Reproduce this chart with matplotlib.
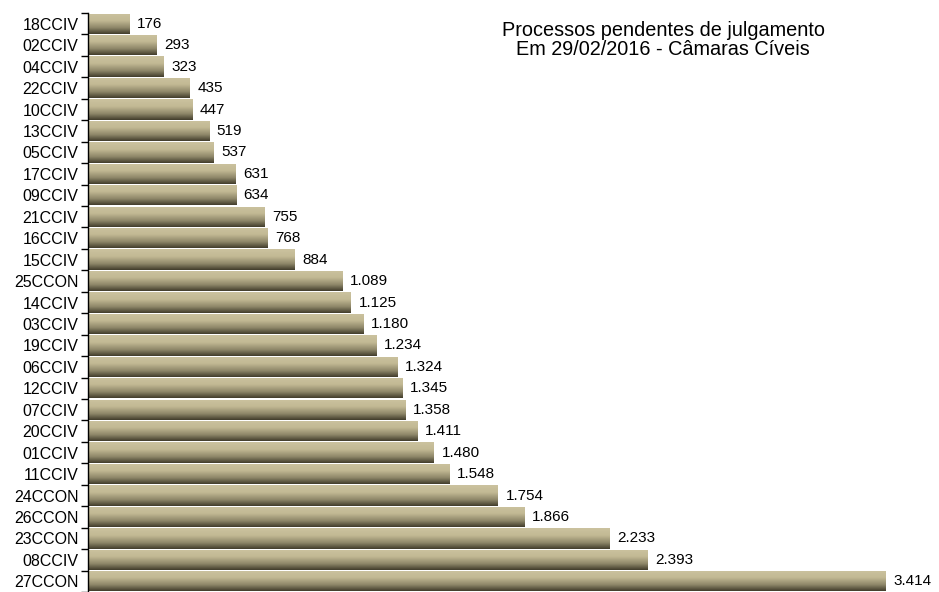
import numpy as np
import matplotlib
matplotlib.use("Agg")
from matplotlib import pyplot as plt
from matplotlib.colors import LinearSegmentedColormap

plt.rcParams["font.family"] = ["Liberation Sans", "DejaVu Sans"]

camaras = [
    "18CCIV", "02CCIV", "04CCIV", "22CCIV", "10CCIV", "13CCIV", "05CCIV",
    "17CCIV", "09CCIV", "21CCIV", "16CCIV", "15CCIV", "25CCON", "14CCIV",
    "03CCIV", "19CCIV", "06CCIV", "12CCIV", "07CCIV", "20CCIV", "01CCIV",
    "11CCIV", "24CCON", "26CCON", "23CCON", "08CCIV", "27CCON",
]
processos = [
    176, 293, 323, 435, 447, 519, 537, 631, 634, 755, 768, 884, 1089, 1125,
    1180, 1234, 1324, 1345, 1358, 1411, 1480, 1548, 1754, 1866, 2233, 2393,
    3414,
]

# gradient top (light) -> bottom (dark)
cmap = LinearSegmentedColormap.from_list(
    "khaki", [(0.0, "#cbc29f"), (0.35, "#c2b994"), (0.7, "#8e8769"), (1.0, "#423d2c")]
)
grad = np.linspace(0, 1, 64).reshape(-1, 1)

fig = plt.figure(figsize=(9.39, 5.92), dpi=100)
ax = fig.add_axes([88 / 939, 0, 851 / 939, 579 / 592])

y = np.arange(len(camaras))
bars = ax.barh(y, processos, height=0.95, color="none", edgecolor="none")

for b in bars:
    x0, y0 = b.get_x(), b.get_y()
    w, h = b.get_width(), b.get_height()
    # y axis is inverted later, so the top of the bar is y0
    im = ax.imshow(grad, cmap=cmap, aspect="auto", interpolation="bilinear",
                   extent=[x0, x0 + w, y0 + h, y0], zorder=2)
    im.set_clip_path(b)

for yi, v in zip(y, processos):
    ax.text(v + 32, yi, f"{v:,}".replace(",", "."), va="center", ha="left",
            fontsize=11, color="black")

ax.set_xlim(0, 3641)
ax.set_ylim(len(camaras) - 0.5, -0.5)

ax.set_yticks(y)
ax.set_yticklabels(camaras, fontsize=11.5)
ax.set_yticks(np.arange(len(camaras) + 1) - 0.5, minor=True)
ax.tick_params(axis="y", which="major", length=0, pad=7)
ax.tick_params(axis="y", which="minor", length=5, width=1, direction="out")
ax.set_xticks([])

for side in ["top", "right", "bottom"]:
    ax.spines[side].set_visible(False)
ax.spines["left"].set_linewidth(1)

fig.text(663 / 939, 1 - 40 / 592, "Processos pendentes de julgamento\nEm 29/02/2016 - Câmaras Cíveis",
         ha="center", va="center", fontsize=14.3, linespacing=1.05)

fig.savefig("out.png", dpi=100)
